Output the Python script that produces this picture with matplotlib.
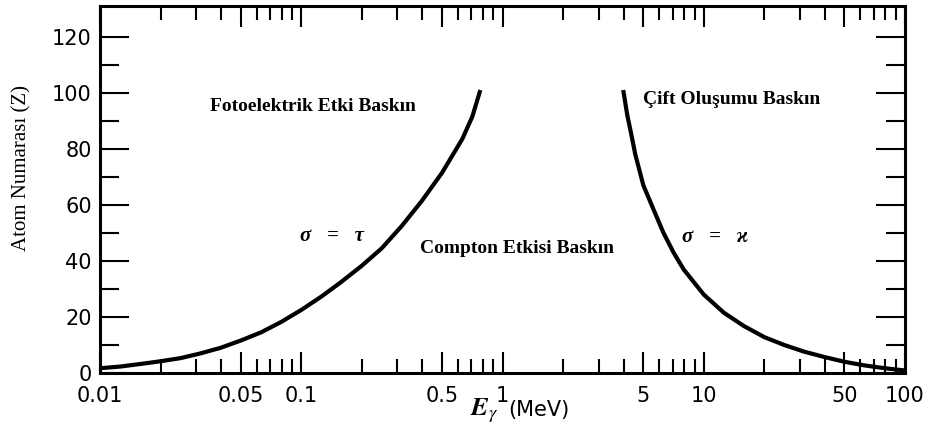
import matplotlib
matplotlib.use("Agg")
import matplotlib.pyplot as plt

# photoelectric = compton boundary (sigma = tau)
tau_E = [0.01, 0.0126, 0.0158, 0.02, 0.0251, 0.0316, 0.0398, 0.0501, 0.0631, 0.0794,
         0.1, 0.126, 0.158, 0.2, 0.251, 0.316, 0.398, 0.501, 0.631, 0.708, 0.776]
tau_Z = [1.7, 2.3, 3.2, 4.2, 5.3, 7.0, 9.0, 11.6, 14.5, 18.2,
         22.5, 27.3, 32.5, 38.3, 44.5, 52.5, 61.5, 71.5, 83.5, 91.5, 101.0]

# compton = pair production boundary (sigma = kappa)
kap_E = [3.98, 4.17, 4.37, 4.57, 5.01, 5.62, 6.31, 7.08, 7.94, 10.0,
         12.6, 15.8, 20.0, 25.1, 31.6, 39.8, 50.1, 63.1, 79.4, 100.0]
kap_Z = [101.0, 92.0, 85.0, 78.0, 67.0, 58.5, 50.0, 43.0, 37.0, 28.0,
         21.5, 16.8, 12.8, 10.0, 7.6, 5.7, 4.0, 2.7, 1.7, 0.9]

xticks = [0.01, 0.05, 0.1, 0.5, 1, 5, 10, 50, 100]
xticklabels = ["0.01", "0.05", "0.1", "0.5", "1", "5", "10", "50", "100"]
xminor = [0.02, 0.03, 0.04, 0.06, 0.07, 0.08, 0.09,
          0.2, 0.3, 0.4, 0.6, 0.7, 0.8, 0.9,
          2, 3, 4, 6, 7, 8, 9,
          20, 30, 40, 60, 70, 80, 90]
yticks = [0, 20, 40, 60, 80, 100, 120]
yminor = [10, 30, 50, 70, 90, 110]

plt.rcParams['mathtext.fontset'] = 'stix'
serif = ['Liberation Serif', 'DejaVu Serif']

fig = plt.figure(figsize=(9.3, 4.29), dpi=100)
ax = fig.add_axes([100/930, 56/429, 805/930, 367/429])

ax.plot(tau_E, tau_Z, color='black', lw=3, solid_capstyle='butt')
ax.plot(kap_E, kap_Z, color='black', lw=3, solid_capstyle='butt')

ax.set_xscale('log')
ax.set_xlim(0.01, 100)
ax.set_ylim(0, 131)
ax.set_xticks(xticks)
ax.set_xticklabels(xticklabels)
ax.set_xticks(xminor, minor=True)
ax.xaxis.set_minor_formatter(matplotlib.ticker.NullFormatter())
ax.set_yticks(yticks)
ax.set_yticks(yminor, minor=True)

for s in ax.spines.values():
    s.set_linewidth(2.2)

ax.tick_params(which='both', direction='in', top=True, right=True, width=1.5,
               labelsize=15)
ax.tick_params(axis='x', which='major', length=15, pad=9)
ax.tick_params(axis='x', which='minor', length=10)
ax.tick_params(axis='y', which='major', length=21, pad=6)
ax.tick_params(axis='y', which='minor', length=14)

# region labels
ax.text(0.1147, 95, "Fotoelektrik Etki Baskın", family=serif, weight='bold',
        fontsize=14, ha='center', va='center')
ax.text(13.8, 97.5, "Çift Oluşumu Baskın", family=serif, weight='bold',
        fontsize=14, ha='center', va='center')
ax.text(1.187, 44.3, "Compton Etkisi Baskın", family=serif, weight='bold',
        fontsize=14, ha='center', va='center')
ax.text(0.1425, 48.9, "σ   =   τ", family=serif, weight='bold', style='italic',
        fontsize=15, ha='center', va='center')
ax.text(11.4, 48.7, "σ   =   ϰ", family=serif, weight='bold', style='italic',
        fontsize=15, ha='center', va='center')

fig.text(22/930, 1 - 168/429, "Atom Numarası (Z)", family=serif, fontsize=15,
         rotation=90, ha='center', va='center')
fig.text(484/930, 1 - 411/429, r"$\mathbfit{E}_{\gamma}$", fontsize=19,
         ha='center', va='center')
fig.text(539/930, 1 - 410/429, "(MeV)", fontsize=15,
         ha='center', va='center')

fig.savefig("out.png", dpi=100)
